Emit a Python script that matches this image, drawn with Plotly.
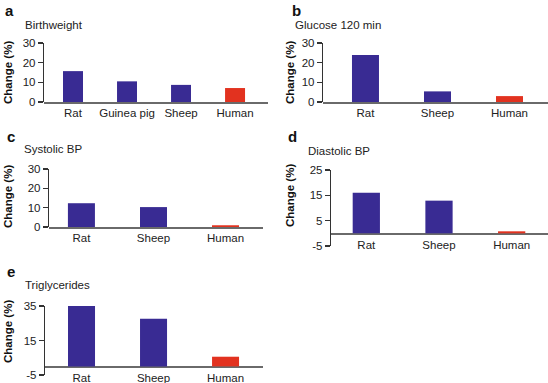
import plotly.graph_objects as go

# ---- data ----
bw_cats = ["Rat", "Guinea pig", "Sheep", "Human"]
bw_vals = [15.7, 10.5, 8.7, 7.1]
glu_cats = ["Rat", "Sheep", "Human"]
glu_vals = [23.9, 5.4, 3.0]
sbp_cats = ["Rat", "Sheep", "Human"]
sbp_vals = [12.3, 10.3, 0.9]
dbp_cats = ["Rat", "Sheep", "Human"]
dbp_vals = [16.0, 12.9, 0.8]
tg_cats = ["Rat", "Sheep", "Human"]
tg_vals = [35.3, 27.6, 5.6]

panel_titles = ["Birthweight", "Glucose 120 min", "Systolic BP", "Diastolic BP", "Triglycerides"]
panel_letters = ["a", "b", "c", "d", "e"]
ytick_sets = [[0, 10, 20, 30], [0, 10, 20, 30], [0, 10, 20, 30], [-5, 5, 15, 25], [-5, 15, 35]]
ytick_labels = [["0", "10", "20", "30"], ["0", "10", "20", "30"], ["0", "10", "20", "30"],
                ["-5", "5", "15", "25"], ["-5", "15", "35"]]
ylabel = "Change (%)"

BLUE = "#392b93"
RED = "#e2321f"
W, H = 548, 383

panels = [
    dict(cats=bw_cats, vals=bw_vals, xd=(44, 268), yd=(43, 102), yr=(0, 30), xr=(-0.537, 3.61), bw=0.37),
    dict(cats=glu_cats, vals=glu_vals, xd=(323, 548), yd=(43, 102), yr=(0, 30), xr=(-0.59, 2.535), bw=0.375),
    dict(cats=sbp_cats, vals=sbp_vals, xd=(49, 263), yd=(169, 227), yr=(0, 30), xr=(-0.45, 2.52), bw=0.375),
    dict(cats=dbp_cats, vals=dbp_vals, xd=(331, 548), yd=(170, 246), yr=(-5, 25), xr=(-0.486, 2.5), bw=0.375),
    dict(cats=tg_cats, vals=tg_vals, xd=(45, 263), yd=(306, 375), yr=(-5, 35), xr=(-0.507, 2.52), bw=0.375),
]

title_pos = [(23, 25), (293, 25), (22, 149), (306, 151), (23, 285)]
letter_pos = [(3, 10), (290, 10), (5, 136), (286, 136), (5, 271)]
ylab_pos = [(8, 73), (290, 73), (8, 197), (290, 196), (8, 332)]

fig = go.Figure()
layout = dict(
    template="none",
    width=W, height=H, margin=dict(l=0, r=0, t=0, b=0, pad=0),
    paper_bgcolor="white", plot_bgcolor="white", showlegend=False,
    font=dict(family="Liberation Sans, Arial, sans-serif", size=11, color="#222"),
    annotations=[],
)

for i, p in enumerate(panels):
    n = i + 1
    xa = "x" if n == 1 else f"x{n}"
    ya = "y" if n == 1 else f"y{n}"
    colors = [RED if c == "Human" else BLUE for c in p["cats"]]
    fig.add_trace(go.Bar(x=p["cats"], y=p["vals"], marker=dict(color=colors, line=dict(width=0)),
                         width=p["bw"], xaxis=xa, yaxis=ya, hoverinfo="skip"))
    x0, x1 = p["xd"][0] / W, p["xd"][1] / W
    y0, y1 = 1 - p["yd"][1] / H, 1 - p["yd"][0] / H
    ymin, ymax = p["yr"]
    zero_pos = y0 + (0 - ymin) / (ymax - ymin) * (y1 - y0)
    layout[f"xaxis{'' if n == 1 else n}"] = dict(
        domain=[x0, min(x1, 1.0)], anchor="free", position=zero_pos, range=list(p["xr"]),
        showline=True, linecolor="#6a6a6a", linewidth=1.5, ticks="", showgrid=False, layer="below traces",
        zeroline=False, tickfont=dict(size=11.5, color="#222"), fixedrange=True, automargin=False,
    )
    layout[f"yaxis{'' if n == 1 else n}"] = dict(
        domain=[y0, y1], anchor=xa, range=[ymin, ymax], tickvals=ytick_sets[i], ticktext=ytick_labels[i],
        showline=True, linecolor="#333", linewidth=1.2, ticks="outside", ticklen=5,
        tickcolor="#333", tickwidth=1.2, showgrid=False, zeroline=False,
        tickfont=dict(size=11.5, color="#222"), fixedrange=True, automargin=False,
    )
    tx, ty = title_pos[i]
    layout["annotations"].append(dict(text=panel_titles[i], x=tx / W, y=1 - ty / H, xref="paper", yref="paper",
                                      xanchor="left", yanchor="middle", showarrow=False,
                                      font=dict(size=11.5, color="#222")))
    lx, ly = letter_pos[i]
    layout["annotations"].append(dict(text=f"<b>{panel_letters[i]}</b>", x=lx / W, y=1 - ly / H, xref="paper", yref="paper",
                                      xanchor="left", yanchor="middle", showarrow=False,
                                      font=dict(size=15, color="#111")))
    ax, ay = ylab_pos[i]
    layout["annotations"].append(dict(text=f"<b>{ylabel}</b>", x=ax / W, y=1 - ay / H, xref="paper", yref="paper",
                                      xanchor="center", yanchor="middle", showarrow=False, textangle=-90,
                                      font=dict(size=11.5, color="#111")))

fig.update_layout(**layout)
fig.write_html("out.html", config={"displayModeBar": False, "staticPlot": True},
               post_script="document.body.style.margin='0';document.body.style.overflow='hidden';")
